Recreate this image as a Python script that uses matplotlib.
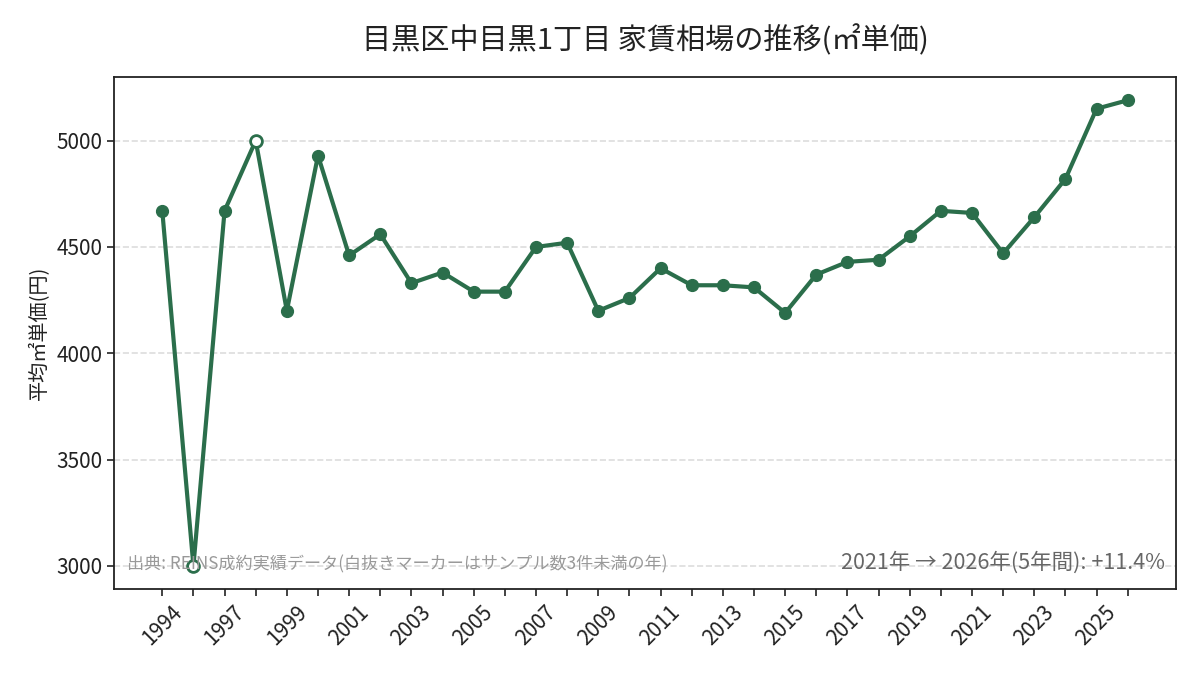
import matplotlib
matplotlib.use("Agg")
import matplotlib.pyplot as plt

plt.rcParams['font.family'] = ['Noto Sans CJK JP', 'DejaVu Sans']

# 年ごとの平均㎡単価
years = [1994, 1996, 1997, 1998, 1999, 2000, 2001, 2002, 2003, 2004, 2005,
         2006, 2007, 2008, 2009, 2010, 2011, 2012, 2013, 2014, 2015, 2016,
         2017, 2018, 2019, 2020, 2021, 2022, 2023, 2024, 2025, 2026]
prices = [4670, 3000, 4670, 5000, 4200, 4930, 4460, 4560, 4330, 4380, 4290,
          4290, 4500, 4520, 4200, 4260, 4400, 4320, 4320, 4310, 4190, 4370,
          4430, 4440, 4550, 4670, 4660, 4470, 4640, 4820, 5150, 5190]
# サンプル数3件未満の年
low_sample = [1996, 1998]

color = "#2b6e4b"

def main():
    fig = plt.figure(figsize=(12, 6.75), dpi=100)
    ax = fig.add_axes([0.095, 0.127, 0.885, 0.759])

    idx = list(range(len(years)))
    ax.plot(idx, prices, color=color, linewidth=3, zorder=2)
    for i, (y, p) in enumerate(zip(years, prices)):
        if y in low_sample:
            ax.plot(i, p, "o", markersize=8.5, markerfacecolor="white",
                    markeredgecolor=color, markeredgewidth=2, zorder=3)
        else:
            ax.plot(i, p, "o", markersize=8.5, color=color, zorder=3)

    ax.set_xticks(idx)
    ax.set_xticklabels([str(y) if i % 2 == 0 else "" for i, y in enumerate(years)],
                       rotation=45, ha="center", fontsize=15)
    ax.set_yticks([3000, 3500, 4000, 4500, 5000])
    ax.tick_params(axis="y", labelsize=15)
    ax.tick_params(width=1.2, length=5, color="#222222", labelcolor="#222222")
    for s in ax.spines.values():
        s.set_linewidth(1.3)
        s.set_color("#222222")
    ax.grid(axis="y", linestyle="--", color="#dddddd", linewidth=1.2)
    ax.set_axisbelow(True)

    ax.set_title("目黒区中目黒1丁目 家賃相場の推移(㎡単価)", fontsize=21, pad=20,
                 color="#222222")
    ax.set_ylabel("平均㎡単価(円)", fontsize=14.5, color="#222222")

    first, last = years.index(2021), years.index(2026)
    pct = (prices[last] / prices[first] - 1) * 100
    ax.text(0.99, 0.03, f"2021年 → 2026年(5年間): {pct:+.1f}%",
            transform=ax.transAxes, ha="right", va="bottom",
            fontsize=15.5, color="#666666")
    ax.text(0.012, 0.03, "出典: REINS成約実績データ(白抜きマーカーはサンプル数3件未満の年)",
            transform=ax.transAxes, ha="left", va="bottom",
            fontsize=12.3, color="#999999")

    fig.savefig("out.png", dpi=100)
    plt.close(fig)

if __name__ == "__main__":
    main()
